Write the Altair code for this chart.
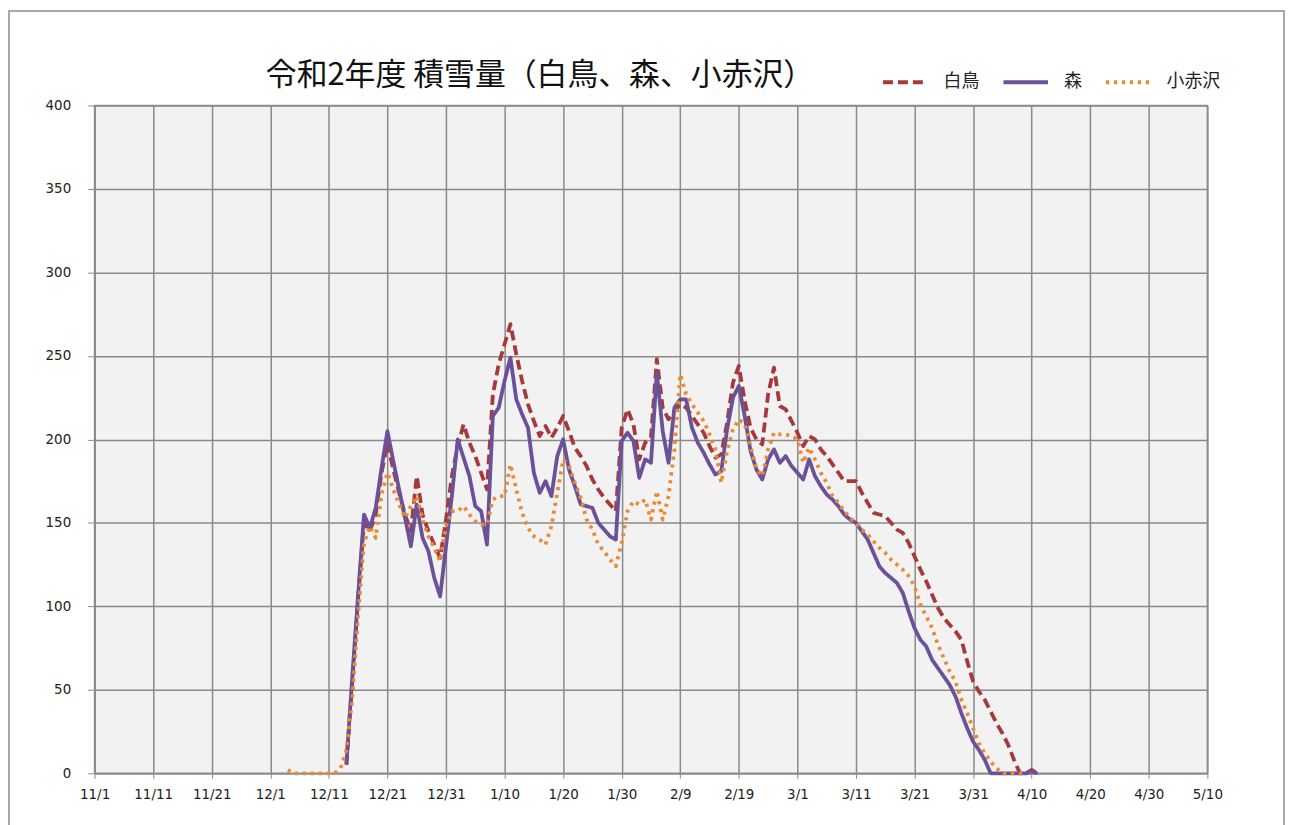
import json
import altair as alt
import pandas as pd

# ---------------- data ----------------
series_names = ["白鳥", "森", "小赤沢"]
series_colors = ["#A8393A", "#6A5199", "#EB8A31"]
series_dashes = [[10, 5], [1, 0], [3.2, 4.8]]

shirotori_start = "2020-12-14"
shirotori = [
    5, 55, 105, 150, 145, 155, 180, 198, 182, 168,
    155, 145, 178, 155, 145, 137, 129, 152, 178, 196,
    209, 198, 190, 180, 170, 227, 245, 257, 269, 251,
    235, 221, 211, 202, 208, 201, 207, 214, 205, 195,
    190, 184, 176, 170, 165, 161, 157, 207, 218, 209,
    188, 198, 201, 248, 219, 212, 217, 221, 219, 214,
    209, 204, 196, 189, 191, 210, 234, 244, 223, 207,
    200, 197, 227, 243, 220, 218, 211, 204, 196, 202,
    200, 194, 190, 185, 180, 175, 175, 175, 168, 162,
    156, 155, 154, 150, 146, 144, 138, 130, 122, 115,
    107, 99, 93, 89, 85, 80, 67, 55, 49, 44,
    37, 30, 24, 17, 8, 0, 0, 2, 0,
]

mori_start = "2020-12-14"
mori = [
    6, 58, 107, 155, 147, 159, 183, 205, 187, 170,
    153, 136, 161, 141, 133, 117, 106, 136, 166, 200,
    189, 178, 160, 157, 137, 214, 219, 235, 249, 224,
    215, 207, 180, 168, 175, 166, 190, 200, 182, 172,
    161, 160, 159, 150, 146, 142, 140, 199, 204, 199,
    177, 188, 186, 240, 205, 186, 219, 224, 224, 207,
    198, 192, 185, 179, 181, 206, 225, 232, 214, 193,
    182, 176, 188, 194, 186, 190, 184, 180, 176, 188,
    178, 172, 167, 164, 160, 155, 152, 150, 145, 140,
    132, 124, 120, 117, 114, 108, 97, 87, 80, 76,
    68, 63, 58, 53, 46, 36, 27, 19, 14, 8,
    0, 0, 0, 0, 0, 0, 0, 1, 0,
]

koakasawa_start = "2020-12-04"
koakasawa = [
    2, 0, 0, 0, 0, 0, 0, 0, 0, 3,
    14, 45, 95, 138, 148, 141, 167, 180, 170, 161,
    153, 160, 166, 152, 142, 135, 127, 148, 157, 157,
    160, 155, 151, 149, 149, 164, 166, 166, 185, 170,
    156, 147, 142, 140, 137, 148, 168, 188, 184, 174,
    165, 152, 146, 137, 133, 128, 124, 138, 157, 163,
    161, 164, 152, 169, 152, 166, 194, 239, 227, 221,
    216, 211, 203, 194, 174, 193, 206, 212, 209, 196,
    182, 178, 194, 204, 203, 203, 202, 200, 186, 195,
    188, 180, 174, 166, 162, 157, 153, 150, 146, 143,
    139, 135, 132, 128, 125, 122, 118, 112, 101, 94,
    87, 77, 69, 61, 55, 44, 36, 27, 18, 12,
    7, 3, 0, 0, 0, 0, 0,
]

x_tick_dates = [
    "2020-11-01", "2020-11-11", "2020-11-21", "2020-12-01", "2020-12-11",
    "2020-12-21", "2020-12-31", "2021-01-10", "2021-01-20", "2021-01-30",
    "2021-02-09", "2021-02-19", "2021-03-01", "2021-03-11", "2021-03-21",
    "2021-03-31", "2021-04-10", "2021-04-20", "2021-04-30", "2021-05-10",
]
x_tick_labels = [
    "11/1", "11/11", "11/21", "12/1", "12/11", "12/21", "12/31", "1/10",
    "1/20", "1/30", "2/9", "2/19", "3/1", "3/11", "3/21", "3/31", "4/10",
    "4/20", "4/30", "5/10",
]
y_ticks = [0, 50, 100, 150, 200, 250, 300, 350, 400]

title_text = "令和2年度 積雪量（白鳥、森、小赤沢）"

# ---------------- table ----------------
rows = []
for name, start, vals in [
    ("白鳥", shirotori_start, shirotori),
    ("森", mori_start, mori),
    ("小赤沢", koakasawa_start, koakasawa),
]:
    dates = pd.date_range(start, periods=len(vals), freq="D").strftime("%Y-%m-%d")
    for d, v in zip(dates, vals):
        rows.append({"date": d, "value": v, "series": name})
df = pd.DataFrame(rows)


def dt(s):
    t = pd.Timestamp(s)
    return alt.DateTime(year=t.year, month=t.month, date=t.day, utc=True)


tick_ts = [int(pd.Timestamp(d, tz="UTC").timestamp() * 1000) for d in x_tick_dates]
label_expr = f"{json.dumps(x_tick_labels)}[indexof({json.dumps(tick_ts)}, +datum.value)]"

GRID = "#8a8a8a"
W, H = 1118, 671

legend_kw = dict(
    title=None,
    orient="none",
    legendX=790,
    legendY=-48,
    direction="horizontal",
    symbolType="stroke",
    symbolSize=2000,
    symbolStrokeWidth=4,
    labelFont="Noto Sans CJK JP",
    labelFontSize=18,
    labelColor="#222222",
    labelOffset=14,
    columnPadding=16,
)

lines = alt.Chart(df).mark_line(strokeWidth=3.8, strokeCap="butt", strokeJoin="round").encode(
    x=alt.X(
        "date:T",
        title=None,
        scale=alt.Scale(type="utc", domain=[dt(x_tick_dates[0]), dt(x_tick_dates[-1])]),
        axis=alt.Axis(
            values=[dt(d) for d in x_tick_dates],
            labelExpr=label_expr,
            tickSize=5,
            tickColor=GRID,
            domainColor=GRID,
            domainWidth=1.5,
            gridColor=GRID,
            gridWidth=1.5,
            grid=True,
            labelFont="DejaVu Sans",
            labelFontSize=13.5,
            labelColor="#222222",
            labelPadding=9,
            labelFlush=False,
            labelOverlap=False,
        ),
    ),
    y=alt.Y(
        "value:Q",
        title=None,
        scale=alt.Scale(domain=[0, 400], nice=False),
        axis=alt.Axis(
            values=y_ticks,
            tickSize=7,
            tickColor=GRID,
            domainColor=GRID,
            domainWidth=1.5,
            gridColor=GRID,
            gridWidth=1.5,
            grid=True,
            labelFont="DejaVu Sans",
            labelFontSize=13.5,
            labelColor="#222222",
            labelPadding=17,
        ),
    ),
    color=alt.Color(
        "series:N",
        scale=alt.Scale(domain=series_names, range=series_colors),
        legend=alt.Legend(**legend_kw),
    ),
    strokeDash=alt.StrokeDash(
        "series:N",
        scale=alt.Scale(domain=series_names, range=series_dashes),
        legend=alt.Legend(**legend_kw),
    ),
    order=alt.Order("date:T"),
)

frame = alt.Chart(pd.DataFrame({"f": [0]})).mark_rect(
    fill=None, stroke="#8c8c8c", strokeWidth=1.5
).encode(
    x=alt.value(-86), x2=alt.value(W + 77),
    y=alt.value(-95), y2=alt.value(H + 60),
)

chart = alt.layer(frame, lines).properties(
    width=W,
    height=H,
    padding={"left": 87, "top": 96, "right": 78, "bottom": 50},
    autosize=alt.AutoSizeParams(type="none"),
    background="white",
    title=alt.TitleParams(
        text=title_text,
        anchor="start",
        frame="group",
        dx=172,
        dy=120,
        offset=14,
        baseline="alphabetic",
        font="Noto Sans CJK JP",
        fontSize=31,
        fontWeight="normal",
        color="#111111",
    ),
).configure_view(
    fill="#F2F2F2", stroke=GRID, strokeWidth=1.5
)

chart.save("out.html", embed_options={"renderer": "svg", "actions": False})
